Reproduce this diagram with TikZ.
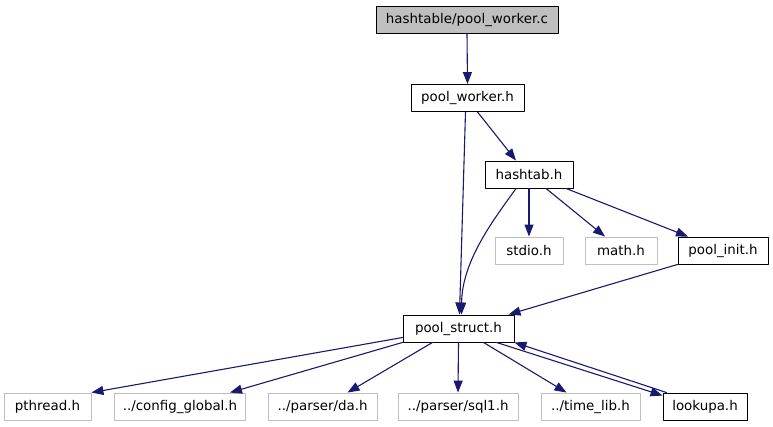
\documentclass[tikz,border=0pt]{standalone}
\usepackage{fontspec}
\setmainfont{DejaVu Sans}
\usetikzlibrary{arrows.meta}
\definecolor{edgeblue}{HTML}{191970}
\begin{document}
\begin{tikzpicture}[x=1pt, y=-1pt, line cap=round, line join=round, font=\fontsize{13.4}{15}\selectfont,
		>={Triangle[length=12pt,width=9pt]}]
			\tikzset{file/.style={draw=black, line width=0.9pt, inner sep=0pt, minimum height=27pt},
				ext/.style={file, draw=gray!50},
				dep/.style={->, draw=edgeblue, line width=1.1pt}}
			\useasboundingbox (0,0) rectangle (773,427);
			% files
			\node[file, fill=gray!50, minimum width=182pt] (wc) at (467,20) {hashtable/pool\_worker.c};
			\node[file, minimum width=113pt] (wh) at (467.5,98) {pool\_worker.h};
			\node[file, minimum width=88pt] (ht) at (529,174.5) {hashtab.h};
			\node[ext, minimum width=68pt] (stdio) at (529,250.5) {stdio.h};
			\node[ext, minimum width=72pt] (math) at (621,250.5) {math.h};
			\node[file, minimum width=90pt] (init) at (723,250.5) {pool\_init.h};
			\node[file, minimum width=111pt] (ps) at (458.5,328.5) {pool\_struct.h};
			\node[ext, minimum width=87pt] (pthr) at (47.5,406.5) {pthread.h};
			\node[ext, minimum width=131pt] (conf) at (180,406.5) {../config\_global.h};
			\node[ext, minimum width=109pt] (da) at (322.5,406.5) {../parser/da.h};
			\node[ext, minimum width=120pt] (sql) at (458,406.5) {../parser/sql1.h};
			\node[ext, minimum width=99pt] (time) at (590.5,406.5) {../time\_lib.h};
			\node[file, minimum width=84pt] (look) at (705,406.5) {lookupa.h};
			% includes
			\draw[dep] (wc.south) -- (wh.north);
			\draw[dep] ([xshift=10pt]wh.south) -- ([xshift=-13pt]ht.north);
			\draw[dep] ([xshift=-2pt]wh.south) -- ([xshift=1pt]ps.north);
			\draw[dep] ([xshift=-13pt]ht.south) .. controls (495,218) and (462,260) .. ([xshift=3pt]ps.north);
			\draw[dep] (ht.south) -- (stdio.north);
			\draw[dep] ([xshift=17pt]ht.south) -- ([xshift=-16pt]math.north);
			\draw[dep] ([xshift=37pt]ht.south) -- ([xshift=-35pt]init.north);
			\draw[dep] (init.south west) -- ([xshift=50pt]ps.north);
			\draw[dep] ([yshift=-9pt]ps.west) -- (pthr.north east);
			\draw[dep] (ps.south west) -- ([xshift=50pt]conf.north);
			\draw[dep] ([xshift=-26pt]ps.south) -- ([xshift=25pt]da.north);
			\draw[dep] (ps.south) -- (sql.north);
			\draw[dep] ([xshift=25pt]ps.south) -- ([xshift=-24pt]time.north);
			\draw[dep] ([xshift=38pt]ps.south) -- ([yshift=-3pt]look.north west);
			\draw[dep] ([xshift=4pt]look.north west) -- (ps.south east);
		\end{tikzpicture}
\end{document}
